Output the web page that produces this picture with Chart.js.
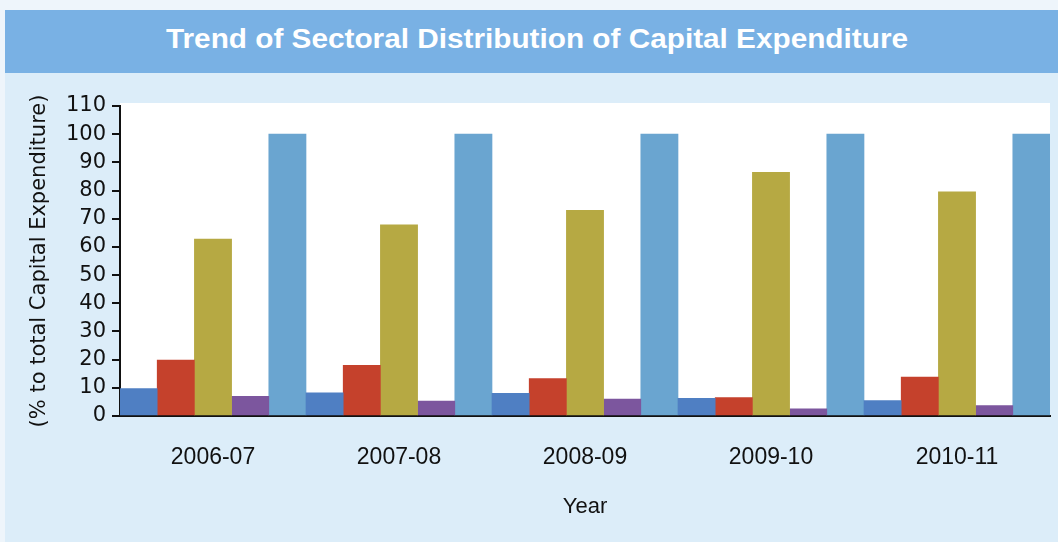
<!DOCTYPE html>
<html>
<head>
<meta charset="utf-8">
<script src="https://cdn.jsdelivr.net/npm/chart.js@4.4.0/dist/chart.umd.min.js"></script>
<style>
  html, body { margin: 0; padding: 0; }
  body { width: 1058px; height: 542px; background: #eef5fb; position: relative; overflow: hidden; }
  #banner {
    position: absolute; left: 5px; top: 10px; width: 1053px; height: 63px;
    background: #79b1e4;
  }
  #titulo {
    position: absolute; left: 0; top: 13px; white-space: nowrap;
    font: bold 28px "Liberation Sans", Arial, sans-serif; color: #fff;
    transform-origin: 0 0;
  }
  #panel {
    position: absolute; left: 5px; top: 73px; width: 1053px; height: 469px;
    background: #dcedf9;
  }
</style>
</head>
<body>
<div id="banner"><span id="titulo">Trend of Sectoral Distribution of Capital Expenditure</span></div>
<div id="panel"><canvas id="graficoCapital" width="1053" height="469"></canvas></div>
<script>
// años y porcentajes sobre el gasto de capital total
const anios = ['2006-07', '2007-08', '2008-09', '2009-10', '2010-11'];
const generales = [9.7, 8.2, 8.0, 6.3, 5.5];
const sociales = [19.8, 18.0, 13.3, 6.5, 13.8];
const economicos = [62.8, 67.8, 73.0, 86.5, 79.5];
const prestamos = [7.0, 5.3, 6.0, 2.5, 3.7];
const total = [100, 100, 100, 100, 100];
const ticksY = [0, 10, 20, 30, 40, 50, 60, 70, 80, 90, 100, 110];

// el título se ajusta al ancho de la franja
const titulo = document.getElementById('titulo');
const anchoNatural = titulo.getBoundingClientRect().width;
const escala = 742 / anchoNatural;
titulo.style.transform = `scaleX(${escala})`;
titulo.style.left = (166 - 5) + 'px';

// fondo blanco solo dentro del área de trazado
const fondoBlanco = {
  id: 'fondoBlanco',
  beforeDraw(chart) {
    const { ctx, chartArea: a } = chart;
    ctx.save();
    ctx.fillStyle = '#ffffff';
    ctx.fillRect(a.left, a.top - 3, a.right - a.left, a.bottom - a.top + 3);
    ctx.restore();
  }
};

const ctx = document.getElementById('graficoCapital').getContext('2d');
new Chart(ctx, {
  type: 'bar',
  data: {
    labels: anios,
    datasets: [
      { label: 'General Services', data: generales, backgroundColor: '#4f7fc3' },
      { label: 'Social Services', data: sociales, backgroundColor: '#c5412c' },
      { label: 'Economic Services', data: economicos, backgroundColor: '#b6a943' },
      { label: 'Loans and Advances', data: prestamos, backgroundColor: '#7c569e' },
      { label: 'Total', data: total, backgroundColor: '#6aa5d0' }
    ]
  },
  options: {
    responsive: false,
    animation: false,
    layout: { padding: { top: 33, right: 8, left: 0, bottom: 0 } },
    datasets: { bar: { categoryPercentage: 1, barPercentage: 1, borderWidth: 0 } },
    plugins: { legend: { display: false }, tooltip: { enabled: false } },
    scales: {
      x: {
        grid: { display: false },
        border: { color: '#111', width: 2 },
        ticks: { color: '#111', padding: 20, font: { family: 'Liberation Sans', size: 23 } },
        title: {
          display: true, text: 'Year', color: '#111',
          font: { family: 'Liberation Sans', size: 22, lineHeight: 1.2 },
          padding: { top: 0, bottom: 22 }
        },
        afterFit: s => { s.height = 126; }
      },
      y: {
        min: 0,
        max: 110,
        afterBuildTicks: s => { s.ticks = ticksY.map(v => ({ value: v })); },
        grid: { drawOnChartArea: false, drawTicks: true, tickLength: 8, color: '#111', lineWidth: 2 },
        border: { color: '#111', width: 2 },
        ticks: {
          color: '#111', padding: 6, autoSkip: false,
          font: { family: 'DejaVu Sans', size: 21, lineHeight: 1 }
        },
        title: {
          display: true, text: '(% to total Capital Expenditure)', color: '#111',
          font: { family: 'DejaVu Sans', size: 21, lineHeight: 1.2 },
          padding: { top: 22, bottom: 0 }
        },
        afterFit: s => { s.width = 115; }
      }
    }
  },
  plugins: [fondoBlanco]
});
</script>
</body>
</html>
